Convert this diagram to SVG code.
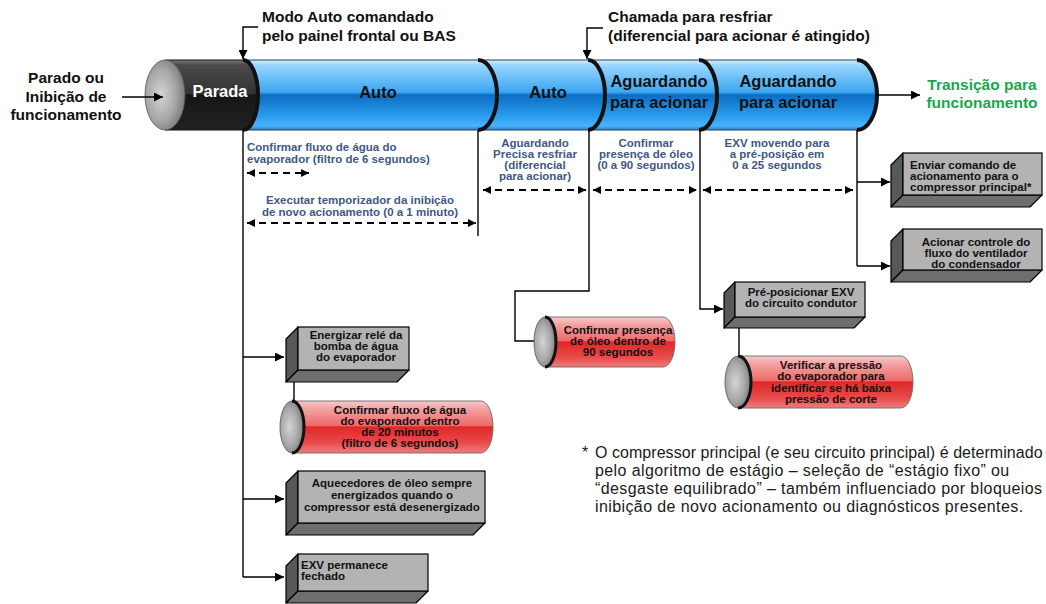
<svg xmlns="http://www.w3.org/2000/svg" width="1046" height="604" viewBox="0 0 1046 604">
  <style>
    .hdr { font-family: "Liberation Sans", Arial, sans-serif; font-weight: bold; font-size: 15.5px; fill: #111; }
    .cyl { font-family: "Liberation Sans", Arial, sans-serif; font-weight: bold; font-size: 16.5px; fill: #111; text-anchor: middle; }
    .dim { font-family: "Liberation Sans", Arial, sans-serif; font-weight: bold; font-size: 11.5px; fill: #3e5883; }
    .box { font-family: "Liberation Sans", Arial, sans-serif; font-weight: bold; font-size: 11.5px; fill: #111; }
    .mid { text-anchor: middle; }
    .note { font-family: "Liberation Sans", Arial, sans-serif; font-size: 16px; letter-spacing: 0.4px; fill: #1a1a1a; }
    .ln { fill: none; stroke: #000; stroke-width: 1.4; }
    .arr { fill: none; stroke: #000; stroke-width: 1.4; marker-end: url(#ah); }
    .dash { fill: none; stroke: #000; stroke-width: 1.8; stroke-dasharray: 7 5; marker-start: url(#dh); marker-end: url(#dh); }
    .front { fill: #b3b3b3; stroke: #000; stroke-width: 1.2; }
    .side { fill: #585858; stroke: #000; stroke-width: 1.2; stroke-linejoin: round; }
    .bottom { fill: #6e6e6e; stroke: #000; stroke-width: 1.2; stroke-linejoin: round; }
    .sep { fill: none; stroke: #111; stroke-width: 4; }
    .redbody { fill: url(#redGrad); stroke: #6a6a6a; stroke-width: 0.9; }
    .cap { fill: url(#capGrad); stroke: #555; stroke-width: 0.8; }
  </style>
  <defs>
    <linearGradient id="blueGrad" x1="0" y1="0" x2="0" y2="1">
      <stop offset="0" stop-color="#d4efff"/>
      <stop offset="0.07" stop-color="#9ad6ff"/>
      <stop offset="0.46" stop-color="#3ba6f0"/>
      <stop offset="0.5" stop-color="#0b6dc4"/>
      <stop offset="0.8" stop-color="#2b9cec"/>
      <stop offset="0.94" stop-color="#4ab3ff"/>
      <stop offset="1" stop-color="#2a80c8"/>
    </linearGradient>
    <linearGradient id="blackGrad" x1="0" y1="0" x2="0" y2="1">
      <stop offset="0" stop-color="#7a7a7a"/>
      <stop offset="0.07" stop-color="#4a4a4a"/>
      <stop offset="0.48" stop-color="#333"/>
      <stop offset="0.5" stop-color="#161616"/>
      <stop offset="1" stop-color="#222"/>
    </linearGradient>
    <linearGradient id="redGrad" x1="0" y1="0" x2="0" y2="1">
      <stop offset="0" stop-color="#f8cccc"/>
      <stop offset="0.15" stop-color="#f3a2a2"/>
      <stop offset="0.47" stop-color="#ee6a6a"/>
      <stop offset="0.5" stop-color="#e02828"/>
      <stop offset="0.8" stop-color="#e84a4a"/>
      <stop offset="1" stop-color="#f27c7c"/>
    </linearGradient>
    <radialGradient id="capGrad" cx="0.4" cy="0.5" r="0.6">
      <stop offset="0" stop-color="#d4d4d4"/>
      <stop offset="0.6" stop-color="#a8a8a8"/>
      <stop offset="1" stop-color="#7a7a7a"/>
    </radialGradient>
    <marker id="ah" viewBox="0 0 10 10" refX="10" refY="5" markerWidth="11" markerHeight="9" markerUnits="userSpaceOnUse" orient="auto-start-reverse">
      <path d="M0,0 L10,5 L0,10 z" fill="#000"/>
    </marker>
    <marker id="dh" viewBox="0 0 10 10" refX="10" refY="5" markerWidth="9" markerHeight="8" markerUnits="userSpaceOnUse" orient="auto-start-reverse">
      <path d="M0,0 L10,5 L0,10 z" fill="#000"/>
    </marker>
  </defs>

  <!-- main state cylinder -->
  <g id="timeline">
    <path d="M243,60 H857 A20,35 0 0 1 857,130 H243 Z" fill="url(#blueGrad)" stroke="#2a3f55" stroke-width="1"/>
    <path d="M165,60 H243 A15,35 0 0 1 243,130 H165 Z" fill="url(#blackGrad)" stroke="#111" stroke-width="1"/>
    <ellipse cx="165" cy="95" rx="20" ry="35" class="cap" stroke="#222"/>
    <path class="sep" d="M243,60 A15,35 0 0 1 243,130"/>
    <path class="sep" d="M478,60 A19,35 0 0 1 478,130"/>
    <path class="sep" d="M588,60 A17,35 0 0 1 588,130"/>
    <path class="sep" d="M699,60 A18,35 0 0 1 699,130"/>
    <path class="sep" d="M857,60 A20,35 0 0 1 857,130"/>
    <text class="cyl" x="220" y="97" style="fill:#fff">Parada</text>
    <text class="cyl" x="378" y="98">Auto</text>
    <text class="cyl" x="548" y="98">Auto</text>
    <text class="cyl" x="659" y="87">Aguardando</text>
    <text class="cyl" x="659" y="108">para acionar</text>
    <text class="cyl" x="788" y="87">Aguardando</text>
    <text class="cyl" x="788" y="108">para acionar</text>
  </g>

  <!-- event labels -->
  <g id="labels">
    <text class="hdr" x="262" y="22">Modo Auto comandado</text>
    <text class="hdr" x="262" y="41">pelo painel frontal ou BAS</text>
    <text class="hdr" x="608" y="22">Chamada para resfriar</text>
    <text class="hdr" x="608" y="41">(diferencial para acionar é atingido)</text>
    <text class="hdr mid" x="66" y="83">Parado ou</text>
    <text class="hdr mid" x="66" y="102">Inibição de</text>
    <text class="hdr mid" x="66" y="120">funcionamento</text>
    <text class="hdr mid" x="982" y="90" style="fill:#17a84b">Transição para</text>
    <text class="hdr mid" x="982" y="108" style="fill:#17a84b">funcionamento</text>
  </g>

  <!-- interval descriptions -->
  <g id="intervals">
    <text class="dim" x="247" y="151">Confirmar fluxo de água do</text>
    <text class="dim" x="247" y="163">evaporador (filtro de 6 segundos)</text>
    <text class="dim mid" x="360" y="204">Executar temporizador da inibição</text>
    <text class="dim mid" x="360" y="216">de novo acionamento (0 a 1 minuto)</text>
    <text class="dim mid" x="535" y="147">Aguardando</text>
    <text class="dim mid" x="535" y="158">Precisa resfriar</text>
    <text class="dim mid" x="535" y="169">(diferencial</text>
    <text class="dim mid" x="535" y="180">para acionar)</text>
    <text class="dim mid" x="646" y="147">Confirmar</text>
    <text class="dim mid" x="646" y="158">presença de óleo</text>
    <text class="dim mid" x="646" y="169">(0 a 90 segundos)</text>
    <text class="dim mid" x="777" y="147">EXV movendo para</text>
    <text class="dim mid" x="777" y="158">a pré-posição em</text>
    <text class="dim mid" x="777" y="169">0 a 25 segundos</text>
  </g>

  <!-- connectors -->
  <g id="connectors">
    <path class="arr" d="M258,27 H243 V59"/>
    <path class="arr" d="M603,28 H587 V59"/>
    <path class="arr" d="M122,97 H163"/>
    <path class="arr" d="M875,95 H920"/>
    <path class="ln" d="M243,130 V577"/>
    <path class="arr" d="M243,357 H284"/>
    <path class="arr" d="M243,499 H284"/>
    <path class="arr" d="M243,577 H284"/>
    <path class="ln" d="M478,130 V236"/>
    <path class="arr" d="M589,130 V291 H515 V341 H547"/>
    <path class="arr" d="M700,130 V309 H723"/>
    <path class="ln" d="M857,130 V266"/>
    <path class="arr" d="M857,182 H890"/>
    <path class="arr" d="M857,266 H890"/>
    <path class="ln" d="M294,381 V401"/>
    <path class="ln" d="M739,328 V356"/>
    <path class="dash" d="M247,173 H309"/>
    <path class="dash" d="M247,223 H476"/>
    <path class="dash" d="M483,190 H586"/>
    <path class="dash" d="M593,190 H697"/>
    <path class="dash" d="M703,190 H853"/>
  </g>

  <!-- action boxes -->
  <g id="box-energizar">
    <polygon class="side" points="298,327 286,339 286,382 298,370"/>
    <polygon class="bottom" points="298,370 409,370 397,382 286,382"/>
    <rect class="front" x="298" y="327" width="111" height="43"/>
    <text class="box mid" x="356" y="339">Energizar relé da</text>
    <text class="box mid" x="356" y="350">bomba de água</text>
    <text class="box mid" x="356" y="361">do evaporador</text>
  </g>

  <g id="box-aquecedores">
    <polygon class="side" points="298,471 286,483 286,535 298,523"/>
    <polygon class="bottom" points="298,523 485,523 473,535 286,535"/>
    <rect class="front" x="298" y="471" width="187" height="52"/>
    <text class="box mid" x="392" y="487">Aquecedores de óleo sempre</text>
    <text class="box mid" x="392" y="499">energizados quando o</text>
    <text class="box mid" x="392" y="511">compressor está desenergizado</text>
  </g>

  <g id="box-exv">
    <polygon class="side" points="298,554 286,566 286,603 298,591"/>
    <polygon class="bottom" points="298,591 428,591 416,603 286,603"/>
    <rect class="front" x="298" y="554" width="130" height="37"/>
    <text class="box" x="301" y="569">EXV permanece</text>
    <text class="box" x="301" y="580">fechado</text>
  </g>

  <g id="box-enviar">
    <polygon class="side" points="903,153 891,165 891,207 903,195"/>
    <polygon class="bottom" points="903,195 1042,195 1030,207 891,207"/>
    <rect class="front" x="903" y="153" width="139" height="42"/>
    <text class="box" x="910" y="169">Enviar comando de</text>
    <text class="box" x="910" y="180">acionamento para o</text>
    <text class="box" x="910" y="191">compressor principal*</text>
  </g>

  <g id="box-acionar">
    <polygon class="side" points="903,229 891,241 891,282 903,270"/>
    <polygon class="bottom" points="903,270 1042,270 1030,282 891,282"/>
    <rect class="front" x="903" y="229" width="139" height="41"/>
    <text class="box mid" x="976" y="246">Acionar controle do</text>
    <text class="box mid" x="976" y="257">fluxo do ventilador</text>
    <text class="box mid" x="976" y="268">do condensador</text>
  </g>

  <g id="box-preposicionar">
    <polygon class="side" points="735,282 724,293 724,328 735,317"/>
    <polygon class="bottom" points="735,317 865,317 854,328 724,328"/>
    <rect class="front" x="735" y="282" width="130" height="35"/>
    <text class="box mid" x="801" y="296">Pré-posicionar EXV</text>
    <text class="box mid" x="801" y="307">do circuito condutor</text>
  </g>

  <!-- check cylinders -->
  <g id="cyl-fluxo">
    <path class="redbody" d="M292,401 H481 A12,26 0 0 1 481,453 H292 Z"/>
    <ellipse class="cap" cx="292" cy="427" rx="12" ry="26"/>
    <path d="M292,401 A12,26 0 0 1 292,453" fill="none" stroke="#111" stroke-width="3"/>
    <text class="box mid" x="400" y="414">Confirmar fluxo de água</text>
    <text class="box mid" x="400" y="425">do evaporador dentro</text>
    <text class="box mid" x="400" y="436">de 20 minutos</text>
    <text class="box mid" x="400" y="447">(filtro de 6 segundos)</text>
  </g>

  <g id="cyl-oleo">
    <path class="redbody" d="M545,317 H663 A12,25 0 0 1 663,367 H545 Z"/>
    <ellipse class="cap" cx="545" cy="342" rx="11" ry="25"/>
    <path d="M545,317 A11,25 0 0 1 545,367" fill="none" stroke="#111" stroke-width="3"/>
    <text class="box mid" x="618" y="334">Confirmar presença</text>
    <text class="box mid" x="618" y="345">de óleo dentro de</text>
    <text class="box mid" x="618" y="356">90 segundos</text>
  </g>

  <g id="cyl-pressao">
    <path class="redbody" d="M738,356 H901 A12,26 0 0 1 901,408 H738 Z"/>
    <ellipse class="cap" cx="738" cy="382" rx="13" ry="26"/>
    <path d="M738,356 A13,26 0 0 1 738,408" fill="none" stroke="#111" stroke-width="3"/>
    <text class="box mid" x="831" y="369">Verificar a pressão</text>
    <text class="box mid" x="831" y="380">do evaporador para</text>
    <text class="box mid" x="831" y="392">identificar se há baixa</text>
    <text class="box mid" x="831" y="403">pressão de corte</text>
  </g>

  <!-- footnote -->
  <g id="footnote">
    <text class="note" x="582" y="458">*</text>
    <text class="note" x="595" y="458" textLength="448" lengthAdjust="spacing">O compressor principal (e seu circuito principal) é determinado</text>
    <text class="note" x="595" y="476">pelo algoritmo de estágio – seleção de “estágio fixo” ou</text>
    <text class="note" x="595" y="494">“desgaste equilibrado” – também influenciado por bloqueios</text>
    <text class="note" x="595" y="512">inibição de novo acionamento ou diagnósticos presentes.</text>
  </g>
</svg>
